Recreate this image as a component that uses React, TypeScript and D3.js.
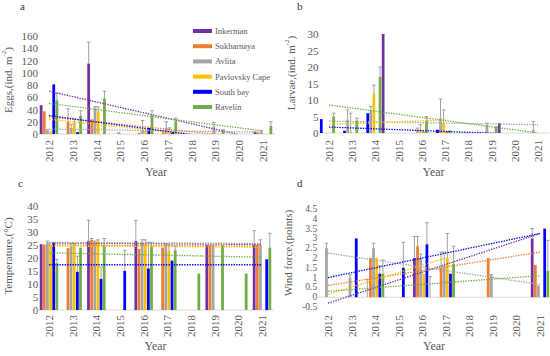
import * as d3 from 'd3';

const years = ['2012', '2013', '2014', '2015', '2016', '2017', '2018', '2019', '2020', '2021'];
const seriesNames = ['Inkerman', 'Sukharnaya', 'Avlita', 'Pavlovsky Cape', 'South bay', 'Ravelin'];
const seriesColors = ['#7030A0', '#ED7D31', '#A5A5A5', '#FFC000', '#0000FF', '#70AD47'];

// a - eggs (rows follow seriesNames, columns follow years)
const eggsValues = [
  [47, 0, 115, 0, 0, 0, 0, 0, 0, 4],
  [37, 20, 24, 0, 2, 3, 0, 0, 0, 2],
  [6, 10, 43, 1, 5, 10, 0, 12, 0, 3],
  [4, 18, 37, 0, 5, 5, 0, 0, 0, 0],
  [81, 3, 0, 0, 10, 3, 0, 0, 0, 0],
  [55, 30, 58, 0, 30, 21, 0, 5, 0, 13],
];
const eggsErrors = [
  [0, 0, 35, 0, 0, 0, 0, 0, 0, 0],
  [0, 21, 0, 0, 0, 0, 0, 0, 0, 0],
  [1, 6, 2, 1, 17, 10, 0, 7, 0, 3],
  [0, 6, 7, 0, 0, 5, 0, 0, 0, 0],
  [0, 0, 0, 0, 0, 0, 0, 0, 0, 0],
  [11, 8, 12, 0, 8, 5, 0, 2, 0, 7],
];
// trend: [from year index, value, to year index, value]
const eggsTrends = [
  [0, 70, 9, -10],
  [0, 28, 9, -8.5],
  [0, 8, 9, 3],
  [0, 24, 9, -13],
  [0, 30, 9, -16.6],
  [0, 50, 9, 5],
];
const eggsTicks = [0, 20, 40, 60, 80, 100, 120, 140, 160];

// b - larvae
const larvaeValues = [
  [0, 0, 30, 0, 0, 0, 0, 3, 0, 0],
  [0, 0, 0, 0, 0.5, 0.5, 0, 0, 0, 0],
  [0, 4, 7, 0, 1, 4.5, 0, 2.5, 0, 1],
  [0, 0.5, 12, 0, 1, 3, 0, 0, 0, 0],
  [4.2, 0.7, 6, 0, 0, 1, 0, 0, 0, 0],
  [5, 3.8, 17, 0, 3.8, 0.8, 0, 2, 0, 0],
];
const larvaeErrors = [
  [0, 0, 0, 0, 0, 0, 0, 0, 0, 0],
  [0, 0, 0, 0, 0, 0, 0, 0, 0, 0],
  [0, 3, 1, 0, 0.5, 5.8, 0, 0.5, 0, 2.5],
  [0, 5.5, 2.5, 0, 1.5, 4, 0, 0, 0, 0],
  [0, 0, 0, 0, 0, 0, 0, 0, 0, 0],
  [1, 0.7, 3, 0, 1.2, 0, 0, 0, 0, 0],
];
const larvaeTrends = [
  null,
  null,
  [0, 3.6, 9, 2.5],
  [0, 2.6, 5, 3.9],
  [0, 1.8, 9, -0.6],
  [0, 8.5, 9, 0],
];
const larvaeOrder = [4, 2, 3, 1, 5, 0];
const larvaeTicks = [0, 5, 10, 15, 20, 25, 30];

// c - temperature
const tempValues = [
  [25.3, 0, 26.5, 0, 26.5, 0, 0, 25, 0, 25],
  [25.2, 23.8, 27, 0, 23.5, 24, 0, 25, 0, 25],
  [26, 24.5, 26, 0, 26, 25, 0, 25, 0, 25],
  [25, 25, 26.5, 0, 25.5, 23, 0, 0, 0, 0],
  [26, 14.7, 12, 15, 16, 19, 0, 0, 0, 19.5],
  [18, 24, 25, 0, 24.5, 23, 14, 25, 14, 24],
];
const tempErrors = [
  [0, 0, 8, 0, 8, 0, 0, 0, 0, 5.5],
  [0, 0, 0.5, 0, 0, 0, 0, 0, 0, 0],
  [0.5, 1, 0.5, 0, 1, 0.5, 0, 0, 0, 2],
  [0, 0.5, 0.5, 0, 1.5, 2, 0, 0, 0, 0],
  [0, 6, 4.5, 8, 10, 0, 0, 0, 0, 0],
  [1.5, 0, 2.5, 0, 1.5, 1.5, 0, 0, 0, 5.5],
];
const tempTrends = [
  [0, 25.8, 9, 25.2],
  [0, 25, 9, 24.5],
  [0, 26, 9, 25.6],
  [0, 24.6, 9, 24.2],
  [0, 17.4, 9, 17.4],
  [0, 22, 9, 20.3],
];
const tempTicks = [0, 5, 10, 15, 20, 25, 30, 35, 40];

// d - wind force
const windValues = [
  [0, 0, 0, 0, 2, 0, 0, 0, 0, 3],
  [0, 0, 2, 0, 2.6, 1.5, 0, 2, 0, 1.65],
  [2.5, 1, 2.5, 0, 2, 1.6, 0, 1.1, 0, 0.6],
  [0, 0, 2, 0, 1.2, 2, 0, 0, 0, 0],
  [0, 3, 1.2, 1.5, 2.7, 1.2, 0, 0, 0, 3.5],
  [0, 0, 1.2, 0, 0, 1.7, 0, 0, 0, 1.35],
];
const windErrors = [
  [0, 0, 0.9, 0, 1.1, 0, 0, 0, 0, 0.5],
  [0, 0, 0, 0, 0.5, 0.8, 0, 0, 0, 0],
  [0.25, 0.15, 0.25, 0, 0.2, 0.7, 0, 0.05, 0, 0],
  [0, 0, 0, 0, 0, 1.25, 0, 0, 0, 0],
  [0, 0, 0.4, 1.3, 1.1, 0, 0, 0, 0, 0],
  [0, 0, 0.7, 0, 1.05, 0.9, 0, 0, 0, 1.55],
];
const windTrends = [
  [0, -0.3, 9, 3.25],
  [0, 0.6, 9, 2.3],
  [0, 2.25, 9, 0.65],
  [0, 0.15, 5, 2.0],
  [0, 1.0, 9, 3.25],
  [0, 0.3, 9, 1.1],
];
const windTicks = [-0.5, 0, 0.5, 1, 1.5, 2, 2.5, 3, 3.5, 4, 4.5];

const FONT = '"Liberation Serif", "Times New Roman", serif';
const TEXT = '#595959';
const ERR = '#8a8a8a';

interface PanelProps {
  id: string;
  letter: string;
  letterPos: [number, number];
  centers: [number, number];
  yDomain: [number, number];
  yRange: [number, number];
  ticks: number[];
  tickSize: number;
  values: number[][];
  errors: number[][];
  trends: (number[] | null)[];
  order?: number[];
  yTitle: React.ReactNode;
  yTitlePos: [number, number];
  labelTop: number;
  xTitleY: number;
}

function Panel(p: PanelProps) {
  const step = (p.centers[1] - p.centers[0]) / (years.length - 1);
  const x = d3.scaleBand<string>()
    .domain(years)
    .range([p.centers[0] - step / 2, p.centers[1] + step / 2])
    .paddingInner(0.22)
    .paddingOuter(0.11);
  const order = p.order ?? seriesNames.map((_, i) => i);
  const inner = d3.scaleBand<number>()
    .domain(order)
    .range([0, x.bandwidth()])
    .paddingInner(0.12);
  const y = d3.scaleLinear().domain(p.yDomain).range(p.yRange);
  const [xl, xr] = x.range();
  const zeroY = y(Math.max(0, p.yDomain[0]));
  const midX = (p.centers[0] + p.centers[1]) / 2;
  const center = (i: number) => (x(years[i]) ?? 0) + x.bandwidth() / 2;

  return (
    <g>
      <defs>
        <clipPath id={`clip-${p.id}`}>
          <rect x={xl} y={p.yRange[1]} width={xr - xl} height={p.yRange[0] - p.yRange[1]} />
        </clipPath>
      </defs>
      <text x={p.letterPos[0]} y={p.letterPos[1]} fontSize={11} fill="#333">{p.letter}</text>

      {p.ticks.map(t => (
        <text key={t} x={xl + 1} y={y(t)} textAnchor="end" dominantBaseline="central"
          fontSize={p.tickSize} fill={TEXT}>{t}</text>
      ))}

      <line x1={xl} x2={xr} y1={zeroY} y2={zeroY} stroke="#d9d9d9" strokeWidth={1} />

      {p.values.map((row, s) => row.map((v, i) => {
        if (v <= 0) return null;
        const bx = (x(years[i]) ?? 0) + (inner(s) ?? 0);
        return (
          <rect key={`${s}-${i}`} x={bx} y={y(v)} width={inner.bandwidth()}
            height={zeroY - y(v)} fill={seriesColors[s]} />
        );
      }))}

      {p.errors.map((row, s) => row.map((e, i) => {
        if (e <= 0) return null;
        const v = p.values[s][i];
        const cx = (x(years[i]) ?? 0) + (inner(s) ?? 0) + inner.bandwidth() / 2;
        return (
          <g key={`e${s}-${i}`} stroke={ERR} strokeWidth={0.8}>
            <line x1={cx} x2={cx} y1={y(v)} y2={y(v + e)} />
            <line x1={cx - 1.8} x2={cx + 1.8} y1={y(v + e)} y2={y(v + e)} />
          </g>
        );
      }))}

      <g clipPath={`url(#clip-${p.id})`}>
        {p.trends.map((t, s) => t && (
          <line key={`t${s}`} x1={center(t[0])} y1={y(t[1])} x2={center(t[2])} y2={y(t[3])}
            stroke={seriesColors[s]} strokeWidth={1.3} strokeDasharray="1.4,1.2" />
        ))}
      </g>

      {years.map((yr, i) => (
        <text key={yr} transform={`translate(${center(i)},${p.labelTop}) rotate(-90)`}
          textAnchor="end" dominantBaseline="central" fontSize={11} fill={TEXT}>{yr}</text>
      ))}

      <text x={midX} y={p.xTitleY} textAnchor="middle" fontSize={12} fill={TEXT}>Year</text>
      <text transform={`translate(${p.yTitlePos[0]},${p.yTitlePos[1]}) rotate(-90)`}
        textAnchor="middle" dominantBaseline="central" fontSize={11} fill={TEXT}>{p.yTitle}</text>
    </g>
  );
}

function Legend() {
  return (
    <g>
      {seriesNames.map((name, i) => (
        <g key={name} transform={`translate(193,${31 + i * 15.2})`}>
          <rect x={0} y={-2} width={19} height={4} fill={seriesColors[i]} />
          <text x={22} y={0} dominantBaseline="central" fontSize={8.5} fill={TEXT}>{name}</text>
        </g>
      ))}
    </g>
  );
}

export default function App() {
  return (
    <div style={{ position: 'absolute', left: 0, top: 0 }}>
      <svg width={550} height={356} style={{ display: 'block', fontFamily: FONT, background: '#fff' }}>
        <Panel id="a" letter="a" letterPos={[20, 10]} centers={[49, 263]} yDomain={[0, 160]} yRange={[134, 36]}
          ticks={eggsTicks} tickSize={11} values={eggsValues} errors={eggsErrors} trends={eggsTrends}
          yTitle={<>Eggs,(ind. m<tspan dy={-4} fontSize={7}>-2</tspan><tspan dy={4}>)</tspan></>}
          yTitlePos={[8, 80]} labelTop={140} xTitleY={176} />
        <Legend />
        <Panel id="b" letter="b" letterPos={[297, 10]} centers={[329, 538]} yDomain={[0, 30]} yRange={[133, 34]}
          ticks={larvaeTicks} tickSize={11} values={larvaeValues} errors={larvaeErrors} trends={larvaeTrends}
          order={larvaeOrder}
          yTitle={<>Larvae,(ind. m<tspan dy={-4} fontSize={7}>-2</tspan><tspan dy={4}>)</tspan></>}
          yTitlePos={[291, 73]} labelTop={140} xTitleY={176} />
        <Panel id="c" letter="c" letterPos={[18, 187]} centers={[49, 262]} yDomain={[0, 40]} yRange={[310, 206]}
          ticks={tempTicks} tickSize={11} values={tempValues} errors={tempErrors} trends={tempTrends}
          yTitle="Temperature,(°C)" yTitlePos={[8, 256]} labelTop={315} xTitleY={350} />
        <Panel id="d" letter="d" letterPos={[297, 187]} centers={[328, 540]} yDomain={[-0.5, 4.5]} yRange={[307, 209]}
          ticks={windTicks} tickSize={9.5} values={windValues} errors={windErrors} trends={windTrends}
          yTitle="Wind force,(points)" yTitlePos={[288, 253]} labelTop={315} xTitleY={350} />
      </svg>
    </div>
  );
}
